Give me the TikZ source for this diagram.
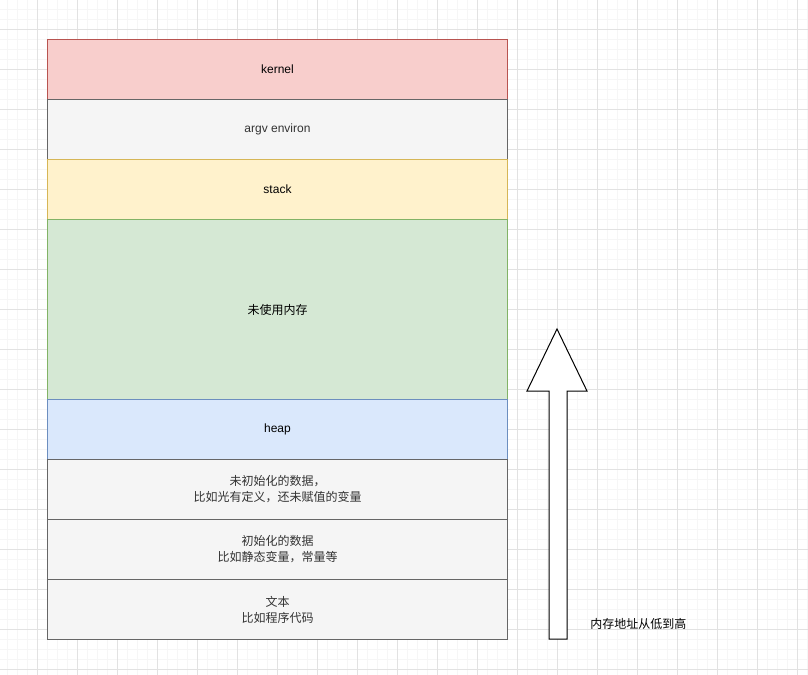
\documentclass[tikz,border=0pt]{standalone}
\usepackage{fontspec}
\setmainfont{Liberation Sans}
\newfontfamily\cjk{Noto Sans CJK SC}
\definecolor{minorline}{HTML}{F6F6F6}
\definecolor{majorline}{HTML}{E2E2E2}
\definecolor{redfill}{HTML}{F8CECC}
\definecolor{redline}{HTML}{B85450}
\definecolor{grayfill}{HTML}{F5F5F5}
\definecolor{grayline}{HTML}{666666}
\definecolor{graytext}{HTML}{333333}
\definecolor{yellowfill}{HTML}{FFF2CC}
\definecolor{yellowline}{HTML}{D6B656}
\definecolor{greenfill}{HTML}{D5E8D4}
\definecolor{greenline}{HTML}{82B366}
\definecolor{bluefill}{HTML}{DAE8FC}
\definecolor{blueline}{HTML}{6C8EBF}
\tikzset{
  seg/.style={draw, line width=0.75pt, anchor=north west, inner sep=0pt,
    minimum width=345pt, minimum height=45pt, align=center,
    font=\fontsize{9}{12}\selectfont},
  tall/.style={minimum height=135pt},
  redseg/.style={seg, fill=redfill, draw=redline},
  grayseg/.style={seg, fill=grayfill, draw=grayline, text=graytext},
  yellowseg/.style={seg, fill=yellowfill, draw=yellowline},
  greenseg/.style={seg, fill=greenfill, draw=greenline},
  blueseg/.style={seg, fill=bluefill, draw=blueline},
  blockarrow/.style={draw=black, fill=white, line width=0.75pt, line join=miter},
}
\begin{document}
\begin{tikzpicture}[x=0.75pt, y=-0.75pt]
\useasboundingbox (0,0) rectangle (808,675);
\fill[white] (0,0) rectangle (808,675);
\foreach \x in {7.3,17.3,...,808}
  \draw[minorline, line width=0.75pt] (\x,0) -- (\x,675);
\foreach \y in {9.3,19.3,...,675}
  \draw[minorline, line width=0.75pt] (0,\y) -- (808,\y);
\foreach \x in {37.3,77.3,...,808}
  \draw[majorline, line width=0.75pt] (\x,0) -- (\x,675);
\foreach \y in {29.3,69.3,...,675}
  \draw[majorline, line width=0.75pt] (0,\y) -- (808,\y);

\node[redseg] (kernel) at (47,39) {kernel};
\node[grayseg] (argv) at (47,99) {argv environ};
\node[yellowseg] (stack) at (47,159) {stack};
\node[greenseg, tall] (free) at (47,219) {\cjk 未使用内存};
\node[blueseg] (heap) at (47,399) {heap};
\node[grayseg] (bss) at (47,459) {\cjk 未初始化的数据，\\\cjk 比如光有定义，还未赋值的变量};
\node[grayseg] (data) at (47,519) {\cjk 初始化的数据\\\cjk 比如静态变量，常量等};
\node[grayseg] (text) at (47,579) {\cjk 文本\\\cjk 比如程序代码};

\draw[blockarrow] (549,639) -- (567,639) -- (567,391) -- (587,391) -- (557,329)
  -- (527,391) -- (549,391) -- cycle;
\node[anchor=west, inner sep=0pt, font=\fontsize{9}{12}\selectfont] (dir) at (590,624) {\cjk 内存地址从低到高};
\end{tikzpicture}
\end{document}
